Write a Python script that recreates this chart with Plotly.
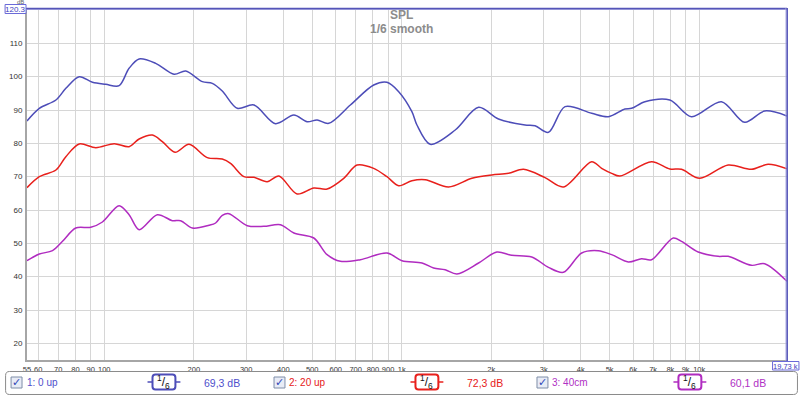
import math
import plotly.graph_objects as go

# ---------------- data ----------------
tick_vals = [55, 60, 70, 80, 90, 100, 200, 300, 400, 500, 600, 700, 800, 900,
             1000, 2000, 3000, 4000, 5000, 6000, 7000, 8000, 9000, 10000]
tick_text = ["55", "60", "70", "80", "90", "100", "200", "300", "400", "500", "600",
             "700", "800", "900", "1k", "2k", "3k", "4k", "5k", "6k", "7k", "8k", "9k", "10k"]
y_ticks = [20, 30, 40, 50, 60, 70, 80, 90, 100, 110]

blue_f = [55, 60.5, 68.8, 74.3, 82.4, 91.3, 101.2, 112.2, 121.2, 131, 148.9, 171.7,
          187.8, 213.6, 230.8, 249.3, 280, 318.5, 376.4, 433.9, 480.9, 519.6, 568.6,
          672, 805, 892, 977, 1082, 1125, 1247, 1513, 1813, 2115, 2598, 2807, 3113,
          3540, 4350, 4949, 5626, 5925, 6567, 7968, 9420, 11880, 14220, 16600, 19730]
blue_db = [86.7, 90.5, 93, 96.5, 100, 98.3, 97.7, 97.3, 102.5, 105.3, 104, 100.7,
           101.7, 98.5, 98, 95.7, 90.5, 91.5, 85.9, 88.5, 86.5, 87, 86,
           91.5, 97.5, 98.3, 95.5, 89.5, 85.5, 79.7, 84, 90.8, 87.3, 85.5, 85.3, 83.3,
           91, 89, 88, 90.3, 90.5, 92.5, 93, 88, 92.5, 86.3, 89.7, 88.2]

red_f = [55, 60.5, 68.8, 74.3, 82.4, 93.7, 108, 121.2, 131, 145.2, 156.8, 173, 192.8,
         222, 249.3, 265.8, 294.8, 318.5, 353, 386.5, 445, 506.4, 561.3, 638.5, 707.6,
         805, 892, 977, 1082, 1200, 1437, 1721, 2009, 2285, 2566, 3032, 3496, 4350,
         4699, 5077, 5414, 6916, 7968, 8720, 10047, 12510, 14980, 17040, 19730]
red_db = [66.7, 70, 72, 76, 79.8, 78.7, 79.9, 79, 81.3, 82.5, 80.5, 77.3, 79.7,
          75.7, 75.3, 74, 70, 69.8, 68.5, 70.2, 64.8, 66.6, 66.3, 69.5, 73.5,
          72.5, 70, 67.3, 68.8, 69.1, 66.9, 69.5, 70.5, 71, 72.2, 69.7, 66.9, 74.5,
          72.5, 71, 70.2, 74.5, 72.3, 72.2, 69.5, 73.5, 72.2, 73.7, 72.4]

pur_f = [55, 60.5, 67, 72.4, 80.2, 90.1, 98.6, 112.2, 121.2, 131, 150.9, 169.4, 180.6,
         197.8, 225, 236.8, 249.3, 262.6, 302.5, 344, 391, 434, 506.4, 561.3, 622, 726,
         892, 1002, 1170, 1280, 1400, 1533, 1813, 2088, 2344, 2736, 3113, 3496, 4027,
         4580, 5077, 5777, 6402, 6916, 8178, 8720, 9921, 11580, 12510, 14980, 16600, 19730]
pur_db = [44.8, 46.8, 47.8, 50.6, 54.6, 54.8, 56.4, 61.3, 58.6, 54.1, 58.6, 56.8, 56.8,
          54.6, 55.4, 56.1, 58.4, 58.9, 55.3, 55.1, 55.6, 53.1, 51.6, 46.6, 44.6, 45.1,
          47.1, 44.8, 44.1, 42.6, 42.1, 40.8, 44.1, 47.4, 46.4, 45.9, 42.8, 41.3, 47.1,
          47.8, 46.6, 44.4, 45.4, 45.1, 51.6, 50.6, 47.4, 46.1, 46.1, 43.4, 43.9, 38.6]

series_names = ["1: 0 up", "2: 20 up", "3: 40cm"]
series_levels = ["69,3 dB", "72,3 dB", "60,1 dB"]
series_colors = ["#4d4db8", "#e8201c", "#b02cc0"]
text_colors = ["#4f4fcc", "#e62020", "#b030c4"]

title_lines = ["SPL", "1/6 smooth"]
x_max_label = "19,73 k"
y_max_label = "120.3"

# ---------------- layout geometry ----------------
W, H = 800, 396
L, R, T, B = 24, 787, 9, 360

def PX(x):
    return (x - L) / (R - L)

def PY(y):
    return (B - y) / (B - T)

def rrect(x0, y0, x1, y1, r):
    pts = [("M", x0 + r, y0), ("L", x1 - r, y0), ("Q", x1, y0, x1, y0 + r),
           ("L", x1, y1 - r), ("Q", x1, y1, x1 - r, y1), ("L", x0 + r, y1),
           ("Q", x0, y1, x0, y1 - r), ("L", x0, y0 + r), ("Q", x0, y0, x0 + r, y0)]
    s = ""
    for p in pts:
        cmd = p[0]
        coords = p[1:]
        parts = []
        for i in range(0, len(coords), 2):
            parts.append(f"{PX(coords[i]):.5f},{PY(coords[i+1]):.5f}")
        s += cmd + " " + " ".join(parts) + " "
    return s + "Z"

fig = go.Figure()
for f, d, c in [(blue_f, blue_db, series_colors[0]),
                (red_f, red_db, series_colors[1]),
                (pur_f, pur_db, series_colors[2])]:
    fig.add_trace(go.Scatter(x=f, y=d, mode="lines",
                             line=dict(color=c, width=1.5, shape="spline", smoothing=0.9),
                             showlegend=False, hoverinfo="skip"))

FONT = "Arial, Liberation Sans, sans-serif"
shapes = []
ann = []

# top and right marker lines
shapes.append(dict(type="line", xref="paper", yref="paper", x0=PX(L - 1), x1=PX(R),
                   y0=PY(9.5), y1=PY(9.5), line=dict(color="#a8a8e0", width=1)))
shapes.append(dict(type="line", xref="paper", yref="paper", x0=PX(L - 1), x1=PX(R),
                   y0=PY(8.5), y1=PY(8.5), line=dict(color="#5555b8", width=1.5)))
shapes.append(dict(type="line", xref="paper", yref="paper", x0=PX(786), x1=PX(786),
                   y0=PY(8), y1=PY(361), line=dict(color="#a8a8e0", width=1)))
shapes.append(dict(type="line", xref="paper", yref="paper", x0=PX(787.2), x1=PX(787.2),
                   y0=PY(8), y1=PY(361), line=dict(color="#5555b8", width=1.5)))

# value boxes
shapes.append(dict(type="rect", xref="paper", yref="paper", x0=PX(2), x1=PX(23),
                   y0=PY(4.5), y1=PY(13.5), fillcolor="white",
                   line=dict(color="#6a6ad8", width=1)))
ann.append(dict(text=y_max_label, xref="paper", yref="paper", x=PX(12.5), y=PY(9),
                showarrow=False, font=dict(family=FONT, size=8, color="#4040c0"),
                xanchor="center", yanchor="middle"))
ann.append(dict(text="dB", xref="paper", yref="paper", x=PX(17), y=PY(1.5),
                showarrow=False, font=dict(family=FONT, size=6, color="#666"),
                xanchor="center", yanchor="middle"))
shapes.append(dict(type="rect", xref="paper", yref="paper", x0=PX(772.5), x1=PX(799),
                   y0=PY(361.5), y1=PY(370), fillcolor="white",
                   line=dict(color="#6a6ad8", width=1)))
ann.append(dict(text=x_max_label, xref="paper", yref="paper", x=PX(785.5), y=PY(366),
                showarrow=False, font=dict(family=FONT, size=7.5, color="#4040c0"),
                xanchor="center", yanchor="middle"))

# title
ann.append(dict(text="<b>" + title_lines[0] + "</b>", xref="paper", yref="paper",
                x=PX(400), y=PY(15), showarrow=False,
                font=dict(family=FONT, size=12, color="#8c8c8c"),
                xanchor="center", yanchor="middle"))
ann.append(dict(text="<b>" + title_lines[1] + "</b>", xref="paper", yref="paper",
                x=PX(400), y=PY(29.5), showarrow=False,
                font=dict(family=FONT, size=12, color="#8c8c8c"),
                xanchor="center", yanchor="middle"))

# legend bar
shapes.append(dict(type="path", xref="paper", yref="paper",
                   path=rrect(2.5, 371.5, 797.5, 394.5, 4),
                   fillcolor="white", line=dict(color="#8a8a8a", width=1)))
offsets = [0, 264, 528]
for i in range(3):
    o = offsets[i]
    col = series_colors[i]
    # checkbox
    shapes.append(dict(type="rect", xref="paper", yref="paper",
                       x0=PX(8 + o), x1=PX(19 + o), y0=PY(377), y1=PY(388),
                       fillcolor="#e8ecf6", line=dict(color="#7f8ea8", width=1)))
    ann.append(dict(text="<b>✓</b>", xref="paper", yref="paper", x=PX(13.7 + o), y=PY(382.5),
                    showarrow=False, font=dict(family="DejaVu Sans", size=11, color="#3048b8"),
                    xanchor="center", yanchor="middle"))
    ann.append(dict(text=series_names[i], xref="paper", yref="paper", x=PX(21.5 + o), y=PY(383),
                    showarrow=False, font=dict(family=FONT, size=10, color=text_colors[i]),
                    xanchor="left", yanchor="middle"))
    # smoothing icon
    shapes.append(dict(type="line", xref="paper", yref="paper", x0=PX(145 + o), x1=PX(150 + o),
                       y0=PY(382), y1=PY(382), line=dict(color=col, width=1.5)))
    shapes.append(dict(type="line", xref="paper", yref="paper", x0=PX(173 + o), x1=PX(178 + o),
                       y0=PY(382), y1=PY(382), line=dict(color=col, width=1.5)))
    shapes.append(dict(type="path", xref="paper", yref="paper",
                       path=rrect(150 + o, 374.5, 173 + o, 389.5, 3),
                       fillcolor="white", line=dict(color=col, width=2)))
    ann.append(dict(text="<sup>1</sup>/<sub>6</sub>", xref="paper", yref="paper",
                    x=PX(161.5 + o), y=PY(382), showarrow=False,
                    font=dict(family=FONT, size=12, color="#111"),
                    xanchor="center", yanchor="middle"))
    ann.append(dict(text=series_levels[i], xref="paper", yref="paper", x=PX(220 + o), y=PY(383),
                    showarrow=False, font=dict(family=FONT, size=10.5, color=text_colors[i]),
                    xanchor="center", yanchor="middle"))

fig.update_layout(
    width=W, height=H,
    margin=dict(l=L, r=W - R, t=T, b=H - B),
    paper_bgcolor="white", plot_bgcolor="white",
    shapes=shapes, annotations=ann,
    xaxis=dict(type="log", range=[math.log10(55), math.log10(19730)],
               tickvals=tick_vals, ticktext=tick_text, showgrid=True, tickangle=0,
               gridcolor="#d6d6d6", gridwidth=1, showline=True, linecolor="#a6a6a6",
               linewidth=1.5, ticks="outside", ticklen=1, tickcolor="rgba(0,0,0,0)",
               tickfont=dict(family=FONT, size=7.5, color="#333"), zeroline=False),
    yaxis=dict(range=[15, 120.3], tickvals=y_ticks, showgrid=True,
               gridcolor="#d6d6d6", gridwidth=1, showline=True, linecolor="#a6a6a6",
               linewidth=2, ticks="outside", ticklen=1, tickcolor="rgba(0,0,0,0)",
               tickfont=dict(family=FONT, size=8, color="#333"), zeroline=False),
)

fig.write_html("out.html", config={"displayModeBar": False},
               post_script="document.body.style.margin='0';document.body.style.overflow='hidden';")
